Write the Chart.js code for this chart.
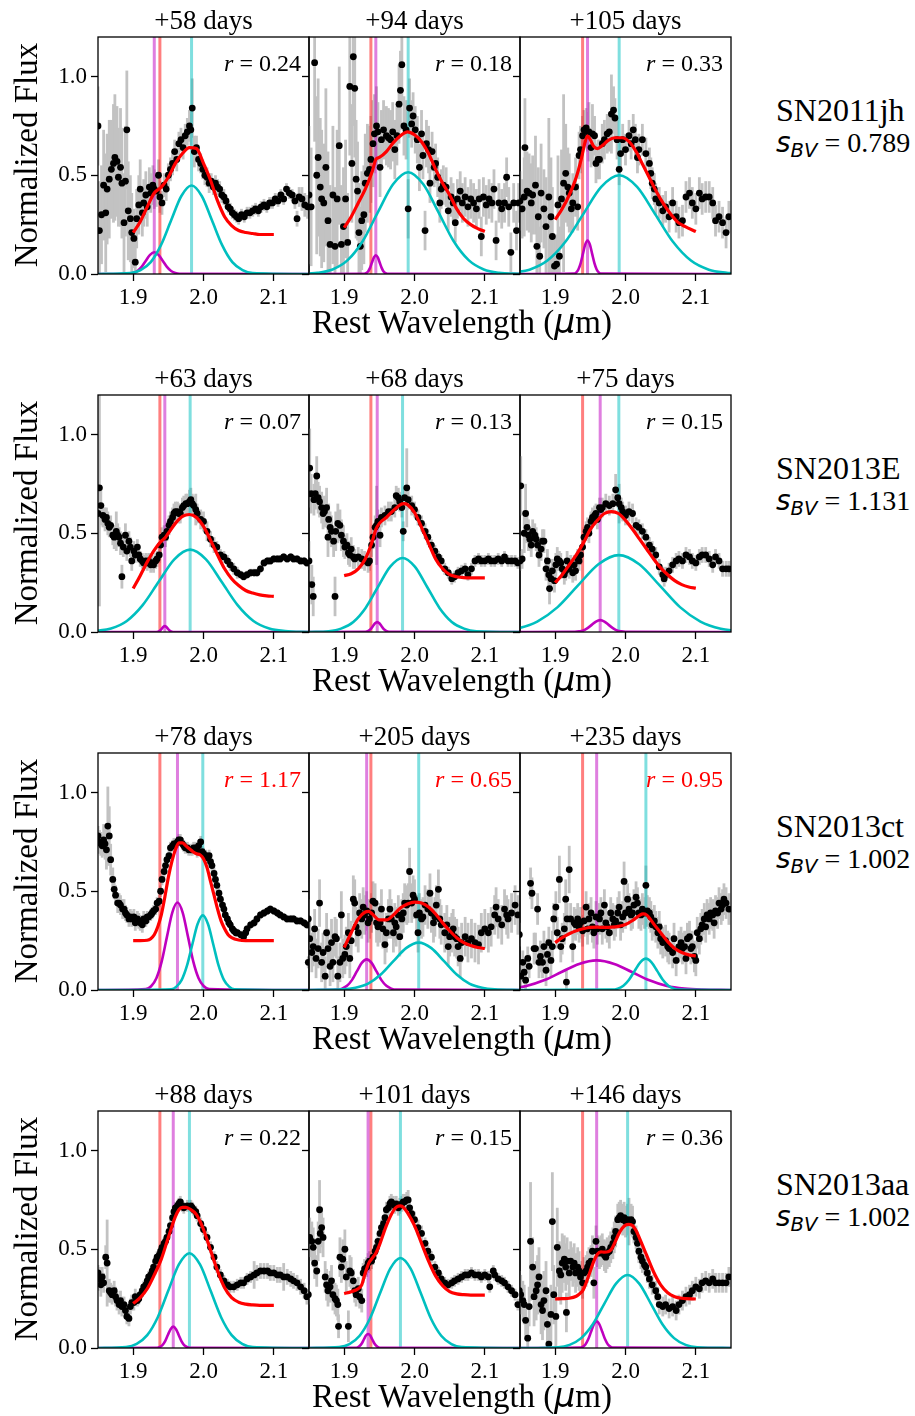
<!DOCTYPE html>
<html>
<head>
<meta charset="utf-8">
<script src="https://cdn.jsdelivr.net/npm/chart.js@4.4.1/dist/chart.umd.min.js"></script>
<style>
  html, body { margin: 0; padding: 0; background: #fff; }
  body { position: relative; width: 915px; height: 1416px; overflow: hidden;
         font-family: 'Liberation Serif', 'Times New Roman', serif; color: #000; }
  canvas { position: absolute; }
  .lbl { position: absolute; line-height: 1; white-space: nowrap; }
  .math { font-family: 'DejaVu Sans', sans-serif; font-style: italic; }
</style>
</head>
<body>
<script>
// axes
const xTicks = [1.9, 2.0, 2.1];
const yTicks = [0.0, 0.5, 1.0];
const xRange = [1.85, 2.15];
const yRange = [0, 1.2];

// rows = objects, columns = epochs
const objects = ['SN2011jh', 'SN2013E', 'SN2013ct', 'SN2013aa'];
const sBV = ['0.789', '1.131', '1.002', '1.002'];
const epochs = [
  ['+58 days', '+94 days', '+105 days'],
  ['+63 days', '+68 days', '+75 days'],
  ['+78 days', '+205 days', '+235 days'],
  ['+88 days', '+101 days', '+146 days']
];
const ratios = [
  ['0.24', '0.18', '0.33'],
  ['0.07', '0.13', '0.15'],
  ['1.17', '0.65', '0.95'],
  ['0.22', '0.15', '0.36']
];
const ratioRed = [false, false, true, false];

// spectra: [wavelength, flux, error]
const jh58Spec = [[1.850,0.75,0.20],[1.852,0.22,0.25],[1.855,0.30,0.25],[1.858,0.45,0.28],[1.861,0.31,0.30],[1.863,0.43,0.28],[1.866,0.48,0.30],[1.869,0.53,0.25],[1.872,0.56,0.30],[1.874,0.59,0.32],[1.877,0.57,0.28],[1.879,0.49,0.25],[1.882,0.54,0.30],[1.884,0.46,0.28],[1.887,0.26,0.25],[1.889,0.47,0.28],[1.891,0.73,0.30],[1.893,0.32,0.25],[1.896,0.28,0.22],[1.898,0.21,0.20],[1.901,0.18,0.15],[1.903,0.06,0.12],[1.905,0.28,0.15],[1.908,0.35,0.15],[1.910,0.43,0.15],[1.913,0.31,0.12],[1.915,0.36,0.12],[1.918,0.40,0.12],[1.920,0.34,0.10],[1.923,0.44,0.10],[1.925,0.41,0.10],[1.928,0.45,0.10],[1.930,0.43,0.10],[1.933,0.42,0.08],[1.936,0.50,0.08],[1.938,0.39,0.08],[1.941,0.36,0.06],[1.944,0.45,0.06],[1.947,0.43,0.06],[1.950,0.50,0.06],[1.953,0.53,0.06],[1.956,0.56,0.06],[1.959,0.62,0.06],[1.962,0.58,0.06],[1.965,0.66,0.06],[1.968,0.68,0.06],[1.971,0.64,0.06],[1.974,0.70,0.06],[1.977,0.72,0.07],[1.980,0.75,0.08],[1.982,0.73,0.08],[1.984,0.84,0.15],[1.987,0.62,0.08],[1.990,0.64,0.06],[1.993,0.58,0.06],[1.996,0.56,0.05],[1.999,0.53,0.05],[2.002,0.50,0.05],[2.005,0.49,0.05],[2.008,0.46,0.05],[2.011,0.47,0.04],[2.014,0.44,0.04],[2.017,0.46,0.04],[2.020,0.44,0.04],[2.023,0.43,0.04],[2.026,0.40,0.04],[2.029,0.39,0.04],[2.032,0.37,0.03],[2.035,0.34,0.03],[2.038,0.33,0.03],[2.041,0.31,0.03],[2.044,0.30,0.03],[2.047,0.29,0.03],[2.050,0.28,0.03],[2.054,0.30,0.03],[2.058,0.29,0.03],[2.062,0.31,0.03],[2.066,0.31,0.03],[2.070,0.32,0.03],[2.074,0.33,0.03],[2.078,0.32,0.03],[2.082,0.34,0.03],[2.086,0.35,0.03],[2.090,0.34,0.03],[2.094,0.36,0.03],[2.098,0.36,0.03],[2.102,0.38,0.03],[2.106,0.37,0.03],[2.110,0.40,0.03],[2.114,0.38,0.03],[2.118,0.43,0.03],[2.122,0.41,0.03],[2.126,0.40,0.03],[2.130,0.37,0.04],[2.133,0.28,0.04],[2.136,0.39,0.05],[2.140,0.38,0.06],[2.144,0.35,0.06],[2.148,0.34,0.06]];
const jh94Spec = [[1.850,0.40,0.35],[1.853,0.34,0.30],[1.858,1.07,0.40],[1.861,0.50,0.40],[1.863,0.59,0.40],[1.866,0.44,0.35],[1.868,0.38,0.35],[1.871,0.36,0.30],[1.874,0.54,0.40],[1.877,0.27,0.35],[1.880,0.15,0.30],[1.884,0.40,0.35],[1.887,0.14,0.30],[1.890,0.38,0.35],[1.893,0.65,0.40],[1.896,0.15,0.30],[1.899,0.24,0.30],[1.902,0.38,0.30],[1.905,0.16,0.25],[1.908,0.95,0.35],[1.911,0.56,0.30],[1.913,1.10,0.35],[1.915,0.94,0.35],[1.917,0.48,0.30],[1.919,0.42,0.25],[1.921,0.21,0.25],[1.923,0.14,0.20],[1.925,0.27,0.25],[1.928,0.30,0.25],[1.930,0.46,0.25],[1.933,0.51,0.25],[1.936,0.53,0.22],[1.938,0.58,0.22],[1.941,0.66,0.22],[1.943,0.71,0.20],[1.946,0.75,0.20],[1.948,0.72,0.15],[1.951,0.54,0.15],[1.953,0.68,0.15],[1.956,0.73,0.15],[1.960,0.70,0.15],[1.963,0.69,0.15],[1.966,0.68,0.15],[1.969,0.72,0.15],[1.972,0.63,0.15],[1.975,0.70,0.15],[1.978,0.86,0.20],[1.980,0.93,0.20],[1.982,1.06,0.20],[1.985,0.75,0.15],[1.988,0.73,0.15],[1.991,0.33,0.15],[1.993,0.84,0.15],[1.996,0.76,0.12],[1.998,0.80,0.12],[2.001,0.73,0.12],[2.004,0.68,0.12],[2.007,0.54,0.12],[2.010,0.71,0.12],[2.012,0.60,0.12],[2.015,0.22,0.10],[2.017,0.66,0.12],[2.020,0.63,0.12],[2.022,0.46,0.10],[2.025,0.62,0.10],[2.028,0.54,0.10],[2.030,0.56,0.10],[2.033,0.49,0.10],[2.036,0.36,0.10],[2.038,0.43,0.10],[2.041,0.45,0.10],[2.045,0.44,0.10],[2.048,0.32,0.10],[2.052,0.39,0.10],[2.055,0.36,0.10],[2.058,0.26,0.10],[2.061,0.38,0.10],[2.065,0.42,0.10],[2.068,0.36,0.10],[2.072,0.39,0.10],[2.076,0.34,0.10],[2.080,0.38,0.10],[2.084,0.36,0.10],[2.088,0.33,0.10],[2.092,0.38,0.10],[2.095,0.19,0.10],[2.098,0.39,0.10],[2.102,0.35,0.10],[2.106,0.38,0.10],[2.110,0.36,0.10],[2.113,0.43,0.10],[2.116,0.17,0.10],[2.120,0.36,0.10],[2.124,0.33,0.10],[2.128,0.36,0.10],[2.131,0.49,0.10],[2.134,0.34,0.10],[2.137,0.11,0.10],[2.141,0.36,0.10],[2.145,0.22,0.10],[2.148,0.36,0.10]];
const jh105Spec = [[1.850,0.37,0.15],[1.853,0.33,0.15],[1.856,0.39,0.20],[1.857,0.64,0.25],[1.860,0.42,0.20],[1.863,0.41,0.20],[1.866,0.36,0.20],[1.868,0.40,0.20],[1.872,0.45,0.25],[1.874,0.14,0.15],[1.876,0.29,0.25],[1.878,0.09,0.15],[1.880,0.41,0.25],[1.884,0.33,0.20],[1.887,0.24,0.25],[1.891,0.39,0.40],[1.894,0.29,0.30],[1.896,0.19,0.25],[1.899,0.04,0.15],[1.902,0.05,0.15],[1.904,0.35,0.25],[1.906,0.09,0.15],[1.909,0.38,0.25],[1.912,0.46,0.45],[1.915,0.51,0.25],[1.918,0.44,0.20],[1.920,0.41,0.20],[1.923,0.33,0.12],[1.925,0.36,0.15],[1.929,0.44,0.15],[1.932,0.34,0.12],[1.934,0.60,0.12],[1.936,0.63,0.12],[1.939,0.70,0.10],[1.941,0.73,0.10],[1.944,0.74,0.10],[1.946,0.72,0.10],[1.948,0.72,0.15],[1.951,0.64,0.10],[1.953,0.71,0.15],[1.956,0.70,0.10],[1.958,0.56,0.10],[1.961,0.58,0.10],[1.963,0.58,0.10],[1.967,0.66,0.10],[1.970,0.68,0.10],[1.974,0.71,0.10],[1.977,0.72,0.10],[1.980,0.81,0.20],[1.983,0.83,0.12],[1.985,0.79,0.10],[1.988,0.68,0.10],[1.991,0.53,0.08],[1.993,0.61,0.08],[1.996,0.68,0.08],[2.000,0.63,0.08],[2.005,0.70,0.08],[2.008,0.66,0.08],[2.011,0.73,0.08],[2.014,0.68,0.08],[2.017,0.59,0.08],[2.019,0.63,0.08],[2.024,0.68,0.08],[2.029,0.61,0.08],[2.034,0.56,0.08],[2.036,0.51,0.08],[2.038,0.46,0.08],[2.041,0.43,0.08],[2.043,0.38,0.08],[2.048,0.36,0.08],[2.053,0.32,0.08],[2.057,0.34,0.08],[2.062,0.29,0.08],[2.067,0.36,0.08],[2.072,0.29,0.08],[2.076,0.26,0.08],[2.081,0.27,0.08],[2.086,0.39,0.08],[2.091,0.41,0.08],[2.095,0.36,0.08],[2.100,0.33,0.08],[2.105,0.41,0.08],[2.109,0.38,0.08],[2.114,0.39,0.08],[2.119,0.39,0.08],[2.124,0.36,0.08],[2.128,0.27,0.08],[2.133,0.29,0.08],[2.138,0.26,0.08],[2.143,0.21,0.08],[2.147,0.29,0.08]];
const e63Spec = [[1.850,0.60,0.08],[1.852,0.73,0.60],[1.854,0.64,0.10],[1.857,0.59,0.06],[1.860,0.57,0.06],[1.862,0.58,0.05],[1.864,0.55,0.06],[1.866,0.53,0.05],[1.868,0.54,0.05],[1.871,0.49,0.05],[1.873,0.48,0.06],[1.876,0.51,0.10],[1.878,0.49,0.06],[1.880,0.48,0.05],[1.882,0.45,0.06],[1.884,0.28,0.06],[1.886,0.43,0.05],[1.889,0.49,0.06],[1.891,0.41,0.05],[1.894,0.46,0.05],[1.896,0.43,0.05],[1.898,0.36,0.05],[1.901,0.41,0.05],[1.903,0.39,0.04],[1.906,0.43,0.04],[1.908,0.39,0.04],[1.910,0.37,0.04],[1.913,0.36,0.04],[1.915,0.35,0.04],[1.918,0.36,0.04],[1.920,0.35,0.04],[1.922,0.36,0.04],[1.925,0.34,0.04],[1.927,0.35,0.04],[1.929,0.34,0.04],[1.932,0.36,0.04],[1.934,0.37,0.04],[1.937,0.39,0.04],[1.939,0.44,0.04],[1.941,0.48,0.05],[1.944,0.49,0.05],[1.946,0.48,0.05],[1.948,0.51,0.05],[1.951,0.54,0.05],[1.953,0.56,0.05],[1.956,0.58,0.05],[1.958,0.60,0.05],[1.960,0.61,0.05],[1.963,0.61,0.05],[1.965,0.60,0.05],[1.967,0.60,0.05],[1.970,0.63,0.05],[1.972,0.64,0.05],[1.975,0.65,0.05],[1.977,0.65,0.05],[1.980,0.66,0.06],[1.982,0.67,0.06],[1.984,0.65,0.05],[1.986,0.64,0.05],[1.989,0.62,0.08],[1.991,0.60,0.05],[1.996,0.57,0.05],[2.000,0.56,0.05],[2.005,0.51,0.05],[2.010,0.47,0.04],[2.015,0.44,0.04],[2.019,0.43,0.03],[2.024,0.39,0.03],[2.029,0.38,0.03],[2.034,0.36,0.03],[2.038,0.34,0.03],[2.043,0.32,0.03],[2.048,0.30,0.03],[2.053,0.29,0.02],[2.057,0.28,0.02],[2.062,0.29,0.02],[2.067,0.30,0.02],[2.072,0.30,0.02],[2.076,0.30,0.02],[2.081,0.32,0.02],[2.086,0.35,0.02],[2.091,0.36,0.02],[2.095,0.36,0.02],[2.100,0.37,0.02],[2.105,0.37,0.02],[2.109,0.37,0.02],[2.114,0.38,0.02],[2.119,0.37,0.02],[2.124,0.38,0.02],[2.128,0.37,0.02],[2.133,0.37,0.02],[2.138,0.36,0.02],[2.143,0.36,0.02],[2.147,0.35,0.02]];
const e68Spec = [[1.850,0.36,0.10],[1.851,0.83,0.20],[1.853,0.70,0.10],[1.854,0.24,0.10],[1.856,0.18,0.10],[1.857,0.67,0.08],[1.859,0.70,0.08],[1.861,0.79,0.10],[1.863,0.68,0.08],[1.865,0.66,0.08],[1.868,0.63,0.08],[1.870,0.60,0.08],[1.872,0.61,0.08],[1.875,0.63,0.10],[1.877,0.48,0.10],[1.878,0.57,0.08],[1.880,0.53,0.08],[1.882,0.51,0.08],[1.885,0.46,0.08],[1.887,0.18,0.10],[1.888,0.51,0.10],[1.891,0.55,0.10],[1.894,0.54,0.08],[1.896,0.49,0.08],[1.899,0.46,0.08],[1.901,0.43,0.06],[1.904,0.44,0.06],[1.906,0.40,0.06],[1.908,0.39,0.06],[1.910,0.42,0.06],[1.913,0.38,0.06],[1.915,0.37,0.05],[1.920,0.38,0.05],[1.925,0.37,0.05],[1.929,0.36,0.05],[1.934,0.35,0.05],[1.936,0.36,0.05],[1.939,0.44,0.06],[1.941,0.48,0.06],[1.944,0.53,0.06],[1.946,0.54,0.20],[1.948,0.56,0.06],[1.951,0.49,0.06],[1.953,0.58,0.05],[1.958,0.59,0.05],[1.963,0.61,0.05],[1.967,0.61,0.05],[1.972,0.63,0.05],[1.974,0.69,0.05],[1.977,0.68,0.05],[1.979,0.66,0.05],[1.982,0.63,0.05],[1.984,0.51,0.05],[1.986,0.68,0.05],[1.989,0.73,0.20],[1.991,0.67,0.05],[1.996,0.64,0.05],[2.000,0.62,0.04],[2.005,0.58,0.04],[2.010,0.55,0.04],[2.015,0.51,0.04],[2.019,0.48,0.04],[2.024,0.44,0.03],[2.029,0.41,0.03],[2.034,0.38,0.03],[2.038,0.36,0.03],[2.043,0.32,0.03],[2.048,0.30,0.03],[2.053,0.27,0.03],[2.057,0.28,0.03],[2.062,0.30,0.03],[2.067,0.31,0.03],[2.072,0.32,0.03],[2.076,0.29,0.03],[2.081,0.32,0.03],[2.086,0.36,0.03],[2.091,0.37,0.03],[2.095,0.36,0.03],[2.100,0.36,0.03],[2.105,0.37,0.03],[2.109,0.36,0.03],[2.114,0.36,0.03],[2.119,0.37,0.03],[2.124,0.36,0.03],[2.128,0.38,0.03],[2.133,0.36,0.03],[2.138,0.36,0.03],[2.143,0.36,0.03],[2.147,0.35,0.03]];
const e75Spec = [[1.850,0.36,0.05],[1.851,0.74,0.15],[1.853,0.37,0.05],[1.856,0.50,0.10],[1.858,0.60,0.15],[1.860,0.53,0.08],[1.862,0.49,0.08],[1.864,0.47,0.06],[1.866,0.44,0.06],[1.868,0.51,0.06],[1.871,0.49,0.06],[1.873,0.47,0.06],[1.875,0.44,0.06],[1.877,0.39,0.06],[1.880,0.42,0.06],[1.882,0.46,0.06],[1.884,0.46,0.06],[1.887,0.32,0.06],[1.889,0.36,0.06],[1.891,0.29,0.06],[1.892,0.22,0.08],[1.894,0.27,0.06],[1.896,0.31,0.06],[1.899,0.26,0.06],[1.901,0.34,0.06],[1.903,0.37,0.06],[1.906,0.36,0.05],[1.908,0.35,0.05],[1.910,0.32,0.05],[1.913,0.29,0.05],[1.915,0.31,0.05],[1.917,0.36,0.05],[1.920,0.32,0.05],[1.922,0.34,0.05],[1.925,0.30,0.05],[1.927,0.34,0.05],[1.929,0.31,0.05],[1.932,0.37,0.05],[1.934,0.36,0.05],[1.936,0.39,0.05],[1.939,0.43,0.05],[1.941,0.48,0.05],[1.944,0.51,0.05],[1.946,0.53,0.05],[1.948,0.50,0.05],[1.951,0.56,0.05],[1.953,0.58,0.05],[1.956,0.59,0.05],[1.958,0.60,0.05],[1.960,0.57,0.05],[1.963,0.63,0.05],[1.965,0.62,0.05],[1.967,0.63,0.05],[1.972,0.65,0.05],[1.977,0.64,0.05],[1.982,0.65,0.05],[1.986,0.72,0.08],[1.989,0.68,0.05],[1.991,0.65,0.10],[1.994,0.63,0.05],[1.996,0.61,0.05],[2.000,0.59,0.05],[2.005,0.61,0.05],[2.010,0.60,0.05],[2.015,0.54,0.04],[2.019,0.53,0.04],[2.024,0.51,0.04],[2.029,0.48,0.04],[2.034,0.44,0.04],[2.038,0.42,0.04],[2.043,0.39,0.04],[2.048,0.33,0.04],[2.053,0.29,0.04],[2.055,0.27,0.04],[2.057,0.29,0.04],[2.062,0.31,0.04],[2.067,0.34,0.04],[2.072,0.36,0.04],[2.076,0.37,0.04],[2.081,0.36,0.04],[2.086,0.39,0.04],[2.091,0.38,0.04],[2.095,0.36,0.04],[2.100,0.35,0.04],[2.105,0.38,0.04],[2.109,0.39,0.04],[2.114,0.39,0.04],[2.119,0.37,0.04],[2.124,0.34,0.04],[2.128,0.38,0.04],[2.133,0.36,0.04],[2.138,0.32,0.04],[2.143,0.32,0.04],[2.147,0.32,0.04]];
const ct78Spec = [[1.850,0.78,0.05],[1.852,0.75,0.06],[1.854,0.74,0.06],[1.856,0.73,0.06],[1.858,0.76,0.08],[1.860,0.74,0.08],[1.862,0.71,0.10],[1.864,0.83,0.20],[1.866,0.78,0.15],[1.868,0.66,0.08],[1.871,0.56,0.06],[1.873,0.51,0.05],[1.875,0.48,0.05],[1.878,0.44,0.05],[1.880,0.44,0.05],[1.882,0.43,0.05],[1.885,0.41,0.05],[1.887,0.41,0.05],[1.889,0.39,0.04],[1.891,0.38,0.04],[1.894,0.36,0.04],[1.896,0.37,0.04],[1.898,0.36,0.04],[1.901,0.37,0.04],[1.903,0.34,0.04],[1.906,0.36,0.04],[1.908,0.35,0.04],[1.910,0.34,0.04],[1.913,0.33,0.04],[1.915,0.36,0.04],[1.918,0.35,0.03],[1.920,0.37,0.03],[1.922,0.37,0.03],[1.925,0.38,0.03],[1.927,0.39,0.03],[1.929,0.40,0.03],[1.932,0.41,0.03],[1.934,0.44,0.03],[1.937,0.45,0.03],[1.939,0.50,0.03],[1.941,0.56,0.03],[1.944,0.60,0.03],[1.946,0.63,0.03],[1.948,0.66,0.03],[1.951,0.68,0.03],[1.953,0.72,0.03],[1.956,0.73,0.03],[1.958,0.74,0.03],[1.960,0.74,0.03],[1.963,0.75,0.03],[1.965,0.76,0.03],[1.967,0.76,0.03],[1.970,0.74,0.03],[1.972,0.73,0.03],[1.974,0.72,0.03],[1.977,0.72,0.03],[1.979,0.71,0.03],[1.982,0.71,0.03],[1.984,0.71,0.03],[1.986,0.72,0.03],[1.989,0.72,0.03],[1.991,0.70,0.03],[1.993,0.73,0.03],[1.996,0.75,0.03],[1.998,0.70,0.03],[2.000,0.69,0.03],[2.003,0.68,0.03],[2.005,0.67,0.03],[2.008,0.68,0.03],[2.010,0.65,0.03],[2.012,0.63,0.03],[2.015,0.59,0.03],[2.017,0.56,0.03],[2.019,0.53,0.03],[2.022,0.49,0.03],[2.024,0.46,0.03],[2.027,0.43,0.03],[2.029,0.41,0.03],[2.031,0.38,0.03],[2.034,0.36,0.02],[2.036,0.34,0.02],[2.038,0.33,0.02],[2.041,0.31,0.02],[2.043,0.30,0.02],[2.046,0.29,0.02],[2.048,0.29,0.02],[2.053,0.28,0.02],[2.057,0.27,0.02],[2.060,0.29,0.02],[2.062,0.31,0.02],[2.067,0.33,0.02],[2.072,0.34,0.02],[2.076,0.36,0.02],[2.081,0.38,0.02],[2.086,0.39,0.02],[2.091,0.40,0.02],[2.095,0.41,0.02],[2.100,0.40,0.02],[2.105,0.39,0.02],[2.109,0.38,0.02],[2.114,0.37,0.02],[2.119,0.36,0.02],[2.124,0.36,0.02],[2.128,0.36,0.02],[2.133,0.35,0.02],[2.138,0.35,0.02],[2.143,0.34,0.02],[2.147,0.33,0.02],[2.149,0.14,0.03]];
const ct205Spec = [[1.849,0.36,0.10],[1.851,0.26,0.10],[1.854,0.19,0.10],[1.856,0.22,0.10],[1.858,0.31,0.10],[1.860,0.16,0.10],[1.863,0.21,0.10],[1.865,0.44,0.12],[1.868,0.14,0.10],[1.870,0.19,0.10],[1.873,0.07,0.10],[1.875,0.29,0.10],[1.877,0.21,0.10],[1.880,0.12,0.10],[1.882,0.24,0.12],[1.884,0.14,0.10],[1.887,0.27,0.10],[1.889,0.26,0.10],[1.891,0.07,0.10],[1.894,0.14,0.10],[1.896,0.38,0.12],[1.898,0.16,0.10],[1.901,0.18,0.10],[1.903,0.22,0.10],[1.906,0.29,0.10],[1.908,0.16,0.10],[1.910,0.25,0.10],[1.913,0.46,0.12],[1.915,0.44,0.12],[1.917,0.32,0.10],[1.920,0.29,0.10],[1.922,0.39,0.10],[1.925,0.36,0.10],[1.927,0.42,0.10],[1.929,0.38,0.10],[1.932,0.40,0.10],[1.934,0.34,0.10],[1.936,0.36,0.10],[1.939,0.39,0.10],[1.941,0.45,0.10],[1.944,0.44,0.10],[1.946,0.34,0.10],[1.948,0.32,0.10],[1.951,0.34,0.10],[1.953,0.41,0.10],[1.955,0.31,0.10],[1.958,0.23,0.10],[1.960,0.29,0.10],[1.963,0.36,0.10],[1.965,0.41,0.10],[1.967,0.36,0.10],[1.970,0.29,0.10],[1.972,0.34,0.10],[1.974,0.32,0.10],[1.977,0.38,0.10],[1.979,0.27,0.10],[1.982,0.36,0.10],[1.984,0.39,0.10],[1.986,0.44,0.10],[1.989,0.43,0.10],[1.991,0.44,0.10],[1.993,0.60,0.12],[1.996,0.44,0.10],[1.998,0.48,0.10],[2.000,0.46,0.10],[2.003,0.38,0.10],[2.005,0.29,0.10],[2.007,0.39,0.10],[2.010,0.36,0.10],[2.012,0.37,0.10],[2.015,0.43,0.10],[2.019,0.41,0.10],[2.022,0.49,0.10],[2.024,0.39,0.10],[2.027,0.34,0.10],[2.029,0.37,0.10],[2.031,0.43,0.10],[2.034,0.51,0.10],[2.036,0.36,0.10],[2.038,0.33,0.10],[2.043,0.29,0.10],[2.046,0.33,0.10],[2.048,0.22,0.10],[2.050,0.27,0.10],[2.053,0.29,0.10],[2.055,0.31,0.10],[2.057,0.27,0.10],[2.060,0.26,0.10],[2.062,0.22,0.10],[2.065,0.16,0.10],[2.067,0.24,0.10],[2.072,0.27,0.10],[2.076,0.24,0.10],[2.081,0.26,0.10],[2.086,0.24,0.10],[2.091,0.23,0.10],[2.095,0.29,0.10],[2.100,0.31,0.10],[2.105,0.29,0.10],[2.109,0.32,0.10],[2.114,0.38,0.10],[2.116,0.42,0.10],[2.119,0.36,0.10],[2.124,0.33,0.10],[2.128,0.41,0.10],[2.131,0.38,0.10],[2.133,0.36,0.10],[2.138,0.39,0.10],[2.143,0.43,0.10],[2.147,0.38,0.10]];
const ct235Spec = [[1.849,0.28,0.06],[1.851,0.07,0.06],[1.854,0.14,0.06],[1.856,0.09,0.06],[1.858,0.05,0.06],[1.861,0.16,0.06],[1.863,0.12,0.06],[1.865,0.54,0.08],[1.867,0.49,0.08],[1.870,0.21,0.08],[1.872,0.21,0.08],[1.875,0.41,0.08],[1.877,0.14,0.08],[1.879,0.17,0.08],[1.882,0.14,0.08],[1.884,0.22,0.08],[1.887,0.10,0.08],[1.889,0.18,0.08],[1.891,0.24,0.08],[1.894,0.15,0.08],[1.896,0.22,0.08],[1.898,0.36,0.08],[1.901,0.42,0.08],[1.903,0.29,0.08],[1.906,0.56,0.12],[1.908,0.22,0.08],[1.910,0.26,0.08],[1.913,0.31,0.08],[1.915,0.46,0.10],[1.916,0.04,0.06],[1.917,0.36,0.08],[1.920,0.61,0.12],[1.922,0.36,0.08],[1.925,0.22,0.08],[1.927,0.34,0.08],[1.929,0.33,0.08],[1.932,0.36,0.08],[1.934,0.32,0.08],[1.936,0.34,0.08],[1.939,0.30,0.08],[1.941,0.35,0.08],[1.944,0.42,0.08],[1.946,0.31,0.08],[1.948,0.36,0.08],[1.951,0.39,0.08],[1.953,0.32,0.08],[1.955,0.29,0.08],[1.958,0.37,0.08],[1.960,0.31,0.08],[1.963,0.36,0.08],[1.965,0.39,0.08],[1.967,0.31,0.08],[1.970,0.43,0.08],[1.972,0.34,0.08],[1.974,0.32,0.08],[1.977,0.29,0.08],[1.979,0.39,0.08],[1.982,0.36,0.08],[1.984,0.33,0.08],[1.986,0.35,0.08],[1.989,0.39,0.08],[1.991,0.42,0.08],[1.993,0.33,0.08],[1.996,0.37,0.08],[1.998,0.55,0.10],[2.000,0.39,0.08],[2.003,0.46,0.08],[2.005,0.41,0.08],[2.008,0.38,0.08],[2.010,0.39,0.08],[2.012,0.43,0.08],[2.015,0.47,0.08],[2.017,0.44,0.08],[2.019,0.39,0.08],[2.022,0.38,0.08],[2.024,0.41,0.08],[2.027,0.39,0.08],[2.029,0.53,0.10],[2.031,0.40,0.08],[2.034,0.39,0.08],[2.036,0.37,0.08],[2.038,0.33,0.08],[2.041,0.35,0.08],[2.043,0.32,0.08],[2.046,0.29,0.08],[2.048,0.32,0.08],[2.050,0.26,0.08],[2.053,0.24,0.08],[2.057,0.25,0.08],[2.060,0.22,0.08],[2.062,0.21,0.08],[2.067,0.19,0.08],[2.069,0.26,0.08],[2.072,0.15,0.08],[2.076,0.22,0.08],[2.079,0.24,0.08],[2.081,0.21,0.08],[2.084,0.22,0.08],[2.086,0.16,0.08],[2.088,0.26,0.08],[2.091,0.27,0.08],[2.093,0.21,0.08],[2.095,0.22,0.08],[2.098,0.17,0.08],[2.100,0.15,0.08],[2.102,0.29,0.08],[2.105,0.26,0.08],[2.107,0.31,0.08],[2.109,0.33,0.08],[2.112,0.36,0.08],[2.114,0.32,0.08],[2.116,0.38,0.08],[2.119,0.36,0.08],[2.121,0.39,0.08],[2.124,0.38,0.08],[2.126,0.34,0.08],[2.128,0.40,0.08],[2.131,0.39,0.08],[2.133,0.44,0.08],[2.136,0.41,0.08],[2.138,0.43,0.08],[2.140,0.46,0.08],[2.143,0.44,0.08],[2.147,0.41,0.08]];
const aa88Spec = [[1.850,0.38,0.04],[1.852,0.35,0.06],[1.854,0.32,0.06],[1.856,0.36,0.05],[1.858,0.33,0.05],[1.861,0.46,0.06],[1.863,0.43,0.22],[1.866,0.29,0.06],[1.868,0.28,0.05],[1.870,0.27,0.05],[1.873,0.29,0.05],[1.875,0.26,0.05],[1.877,0.24,0.05],[1.880,0.22,0.05],[1.882,0.24,0.05],[1.884,0.21,0.05],[1.887,0.22,0.04],[1.889,0.19,0.04],[1.891,0.16,0.04],[1.894,0.15,0.04],[1.896,0.21,0.04],[1.898,0.23,0.04],[1.901,0.23,0.04],[1.903,0.26,0.04],[1.906,0.24,0.03],[1.908,0.25,0.03],[1.910,0.27,0.03],[1.913,0.29,0.03],[1.915,0.31,0.03],[1.918,0.32,0.03],[1.920,0.34,0.03],[1.922,0.36,0.03],[1.925,0.37,0.03],[1.927,0.39,0.03],[1.929,0.41,0.03],[1.932,0.44,0.03],[1.934,0.46,0.03],[1.937,0.47,0.03],[1.939,0.49,0.03],[1.941,0.51,0.03],[1.944,0.53,0.03],[1.946,0.54,0.03],[1.948,0.56,0.03],[1.951,0.59,0.03],[1.953,0.62,0.03],[1.956,0.66,0.03],[1.958,0.69,0.03],[1.960,0.71,0.03],[1.963,0.72,0.03],[1.965,0.73,0.03],[1.967,0.74,0.03],[1.970,0.72,0.03],[1.972,0.71,0.03],[1.977,0.72,0.03],[1.982,0.72,0.03],[1.984,0.71,0.03],[1.986,0.70,0.03],[1.989,0.69,0.03],[1.991,0.67,0.03],[1.996,0.63,0.03],[2.000,0.60,0.03],[2.005,0.56,0.03],[2.010,0.51,0.03],[2.015,0.46,0.03],[2.019,0.41,0.03],[2.024,0.37,0.03],[2.029,0.34,0.03],[2.034,0.32,0.03],[2.038,0.31,0.03],[2.043,0.31,0.03],[2.048,0.32,0.03],[2.053,0.33,0.03],[2.057,0.33,0.03],[2.062,0.35,0.03],[2.067,0.36,0.03],[2.072,0.37,0.07],[2.076,0.38,0.04],[2.081,0.39,0.04],[2.086,0.39,0.04],[2.091,0.39,0.04],[2.095,0.38,0.04],[2.100,0.38,0.04],[2.105,0.37,0.04],[2.109,0.37,0.04],[2.114,0.36,0.07],[2.119,0.36,0.04],[2.124,0.35,0.04],[2.128,0.34,0.04],[2.133,0.33,0.04],[2.138,0.31,0.04],[2.143,0.29,0.04],[2.147,0.26,0.04]];
const aa101Spec = [[1.849,0.27,0.05],[1.851,0.56,0.10],[1.854,0.54,0.10],[1.856,0.51,0.10],[1.858,0.43,0.08],[1.861,0.39,0.08],[1.863,0.54,0.10],[1.865,0.70,0.15],[1.866,0.58,0.10],[1.868,0.61,0.10],[1.870,0.56,0.10],[1.873,0.36,0.08],[1.875,0.32,0.08],[1.877,0.29,0.08],[1.880,0.31,0.08],[1.882,0.34,0.08],[1.884,0.27,0.08],[1.887,0.25,0.08],[1.889,0.24,0.08],[1.891,0.22,0.08],[1.892,0.11,0.06],[1.894,0.46,0.10],[1.896,0.41,0.08],[1.898,0.45,0.10],[1.901,0.50,0.10],[1.903,0.36,0.08],[1.906,0.11,0.08],[1.908,0.39,0.08],[1.910,0.38,0.08],[1.913,0.34,0.06],[1.915,0.29,0.06],[1.917,0.27,0.06],[1.920,0.30,0.06],[1.922,0.26,0.06],[1.925,0.24,0.06],[1.927,0.38,0.05],[1.929,0.40,0.05],[1.932,0.41,0.05],[1.934,0.43,0.05],[1.936,0.44,0.05],[1.939,0.44,0.04],[1.941,0.46,0.04],[1.944,0.49,0.04],[1.946,0.51,0.04],[1.948,0.54,0.04],[1.951,0.58,0.04],[1.953,0.61,0.04],[1.956,0.63,0.04],[1.958,0.66,0.04],[1.960,0.70,0.04],[1.963,0.71,0.04],[1.965,0.73,0.04],[1.967,0.74,0.04],[1.970,0.73,0.04],[1.972,0.72,0.04],[1.974,0.73,0.04],[1.977,0.71,0.04],[1.979,0.72,0.04],[1.982,0.73,0.04],[1.984,0.74,0.04],[1.986,0.74,0.04],[1.989,0.75,0.04],[1.991,0.75,0.05],[1.993,0.71,0.04],[1.996,0.68,0.04],[2.000,0.65,0.04],[2.005,0.61,0.04],[2.010,0.58,0.04],[2.015,0.53,0.03],[2.019,0.49,0.03],[2.024,0.46,0.03],[2.029,0.41,0.03],[2.034,0.38,0.03],[2.038,0.35,0.03],[2.043,0.33,0.03],[2.048,0.32,0.03],[2.053,0.33,0.03],[2.057,0.34,0.03],[2.062,0.35,0.03],[2.067,0.36,0.03],[2.072,0.37,0.03],[2.076,0.37,0.03],[2.081,0.38,0.03],[2.086,0.37,0.03],[2.091,0.37,0.03],[2.095,0.36,0.03],[2.100,0.37,0.03],[2.105,0.36,0.03],[2.107,0.31,0.03],[2.112,0.39,0.03],[2.114,0.37,0.03],[2.119,0.35,0.03],[2.124,0.34,0.03],[2.128,0.33,0.03],[2.133,0.31,0.03],[2.138,0.29,0.03],[2.143,0.27,0.03],[2.147,0.22,0.03]];
const aa146Spec = [[1.849,0.29,0.10],[1.851,0.27,0.10],[1.854,0.24,0.10],[1.856,0.22,0.10],[1.858,0.14,0.10],[1.861,0.05,0.10],[1.863,0.21,0.10],[1.865,0.54,0.30],[1.868,0.41,0.15],[1.870,0.26,0.15],[1.873,0.29,0.15],[1.875,0.32,0.15],[1.877,0.36,0.15],[1.880,0.22,0.15],[1.882,0.19,0.15],[1.884,0.24,0.15],[1.887,0.29,0.15],[1.889,0.12,0.15],[1.891,0.02,0.10],[1.894,0.17,0.15],[1.896,0.64,0.25],[1.898,0.27,0.15],[1.901,0.16,0.15],[1.903,0.51,0.20],[1.906,0.39,0.15],[1.908,0.37,0.15],[1.910,0.43,0.15],[1.913,0.45,0.12],[1.915,0.41,0.12],[1.916,0.18,0.10],[1.917,0.44,0.12],[1.920,0.38,0.12],[1.922,0.44,0.10],[1.925,0.41,0.10],[1.927,0.43,0.10],[1.929,0.38,0.10],[1.932,0.41,0.10],[1.934,0.39,0.10],[1.936,0.36,0.08],[1.939,0.33,0.08],[1.941,0.38,0.08],[1.944,0.39,0.08],[1.946,0.41,0.08],[1.948,0.43,0.08],[1.951,0.44,0.08],[1.953,0.49,0.08],[1.955,0.33,0.08],[1.958,0.54,0.08],[1.960,0.49,0.08],[1.963,0.48,0.08],[1.965,0.49,0.08],[1.967,0.50,0.08],[1.970,0.47,0.08],[1.972,0.46,0.08],[1.974,0.48,0.08],[1.977,0.49,0.08],[1.979,0.51,0.08],[1.982,0.53,0.08],[1.984,0.56,0.08],[1.986,0.59,0.08],[1.989,0.65,0.08],[1.991,0.66,0.08],[1.993,0.67,0.08],[1.996,0.65,0.08],[1.998,0.66,0.08],[2.000,0.64,0.08],[2.003,0.65,0.08],[2.005,0.64,0.12],[2.008,0.65,0.08],[2.010,0.64,0.08],[2.012,0.59,0.06],[2.015,0.56,0.06],[2.017,0.53,0.06],[2.019,0.49,0.06],[2.022,0.46,0.06],[2.024,0.44,0.06],[2.027,0.42,0.05],[2.029,0.41,0.05],[2.031,0.38,0.05],[2.034,0.35,0.05],[2.038,0.32,0.05],[2.043,0.29,0.05],[2.046,0.26,0.05],[2.048,0.22,0.05],[2.053,0.21,0.05],[2.057,0.22,0.05],[2.062,0.20,0.05],[2.067,0.21,0.05],[2.072,0.19,0.05],[2.076,0.22,0.05],[2.081,0.24,0.05],[2.086,0.26,0.05],[2.091,0.27,0.05],[2.095,0.29,0.05],[2.100,0.31,0.05],[2.105,0.30,0.05],[2.109,0.33,0.05],[2.114,0.34,0.05],[2.119,0.33,0.05],[2.124,0.35,0.05],[2.128,0.33,0.05],[2.133,0.33,0.05],[2.138,0.33,0.05],[2.143,0.33,0.05],[2.147,0.36,0.05]];

// total model fits (red)
const jh58Fit = [[1.90,0.21],[1.91,0.265],[1.92,0.34],[1.93,0.41],[1.94,0.44],[1.95,0.49],[1.96,0.56],[1.97,0.61],[1.98,0.64],[1.99,0.635],[2.00,0.56],[2.01,0.475],[2.02,0.37],[2.03,0.29],[2.04,0.245],[2.05,0.22],[2.06,0.21],[2.07,0.205],[2.08,0.20],[2.09,0.20],[2.10,0.20]];
const jh94Fit = [[1.90,0.235],[1.91,0.29],[1.92,0.36],[1.93,0.43],[1.94,0.52],[1.945,0.58],[1.95,0.59],[1.96,0.62],[1.97,0.665],[1.98,0.70],[1.99,0.72],[2.00,0.705],[2.01,0.67],[2.02,0.61],[2.03,0.53],[2.04,0.46],[2.05,0.40],[2.06,0.33],[2.07,0.28],[2.08,0.25],[2.09,0.23],[2.10,0.215]];
const jh105Fit = [[1.90,0.275],[1.91,0.33],[1.92,0.40],[1.93,0.49],[1.937,0.58],[1.942,0.66],[1.946,0.70],[1.950,0.68],[1.955,0.645],[1.960,0.635],[1.967,0.65],[1.975,0.675],[1.985,0.69],[1.995,0.69],[2.005,0.67],[2.015,0.62],[2.025,0.55],[2.035,0.48],[2.045,0.41],[2.055,0.35],[2.065,0.30],[2.075,0.26],[2.085,0.24],[2.10,0.215]];
const e63Fit = [[1.90,0.22],[1.91,0.285],[1.92,0.355],[1.93,0.415],[1.94,0.46],[1.945,0.475],[1.95,0.50],[1.96,0.55],[1.97,0.585],[1.98,0.595],[1.99,0.58],[2.00,0.535],[2.01,0.465],[2.02,0.39],[2.03,0.32],[2.04,0.27],[2.05,0.235],[2.06,0.21],[2.07,0.197],[2.08,0.188],[2.09,0.183],[2.10,0.18]];
const e68Fit = [[1.90,0.285],[1.91,0.295],[1.92,0.32],[1.93,0.37],[1.94,0.46],[1.945,0.52],[1.95,0.55],[1.96,0.58],[1.97,0.615],[1.98,0.645],[1.985,0.65],[1.99,0.645],[2.00,0.605],[2.01,0.53],[2.02,0.45],[2.03,0.37],[2.04,0.32],[2.05,0.29],[2.06,0.28],[2.07,0.275],[2.08,0.274],[2.10,0.274]];
const e75Fit = [[1.90,0.25],[1.91,0.29],[1.92,0.34],[1.93,0.39],[1.94,0.45],[1.95,0.52],[1.96,0.565],[1.97,0.60],[1.98,0.61],[1.99,0.60],[2.00,0.565],[2.01,0.52],[2.02,0.47],[2.03,0.42],[2.04,0.37],[2.05,0.325],[2.06,0.29],[2.07,0.26],[2.08,0.24],[2.09,0.228],[2.10,0.222]];
const ct78Fit = [[1.90,0.25],[1.91,0.25],[1.92,0.252],[1.925,0.26],[1.93,0.28],[1.935,0.32],[1.94,0.38],[1.945,0.47],[1.95,0.57],[1.955,0.65],[1.96,0.71],[1.965,0.745],[1.97,0.745],[1.975,0.73],[1.98,0.715],[1.985,0.70],[1.99,0.69],[1.995,0.685],[2.00,0.665],[2.005,0.62],[2.01,0.55],[2.015,0.48],[2.02,0.41],[2.025,0.35],[2.03,0.31],[2.035,0.28],[2.04,0.265],[2.05,0.253],[2.06,0.25],[2.10,0.25]];
const ct205Fit = [[1.90,0.215],[1.91,0.29],[1.92,0.36],[1.93,0.395],[1.935,0.398],[1.94,0.385],[1.95,0.355],[1.96,0.355],[1.97,0.38],[1.98,0.415],[1.99,0.435],[2.00,0.445],[2.01,0.44],[2.02,0.42],[2.03,0.385],[2.04,0.34],[2.05,0.30],[2.06,0.265],[2.07,0.24],[2.08,0.225],[2.09,0.215],[2.10,0.21]];
const ct235Fit = [[1.90,0.24],[1.91,0.265],[1.92,0.285],[1.93,0.30],[1.94,0.31],[1.95,0.317],[1.96,0.318],[1.97,0.317],[1.98,0.318],[1.99,0.322],[2.00,0.332],[2.01,0.352],[2.02,0.378],[2.025,0.385],[2.03,0.38],[2.035,0.36],[2.04,0.335],[2.05,0.29],[2.06,0.245],[2.07,0.21],[2.08,0.19],[2.09,0.178],[2.10,0.172]];
const aa88Fit = [[1.90,0.225],[1.91,0.255],[1.92,0.30],[1.93,0.37],[1.94,0.45],[1.95,0.56],[1.96,0.665],[1.965,0.70],[1.97,0.712],[1.975,0.712],[1.98,0.705],[1.99,0.675],[2.00,0.60],[2.01,0.495],[2.02,0.39],[2.03,0.305],[2.04,0.255],[2.05,0.232],[2.06,0.222],[2.07,0.218],[2.08,0.216],[2.10,0.216]];
const aa101Fit = [[1.90,0.275],[1.91,0.285],[1.92,0.30],[1.925,0.32],[1.93,0.38],[1.935,0.43],[1.94,0.455],[1.945,0.48],[1.95,0.52],[1.96,0.62],[1.97,0.695],[1.975,0.715],[1.98,0.72],[1.985,0.71],[1.99,0.685],[2.00,0.62],[2.01,0.53],[2.02,0.44],[2.03,0.365],[2.04,0.315],[2.05,0.285],[2.06,0.274],[2.07,0.27],[2.08,0.268],[2.10,0.268]];
const aa146Fit = [[1.90,0.248],[1.91,0.25],[1.92,0.252],[1.93,0.262],[1.935,0.275],[1.94,0.295],[1.945,0.34],[1.95,0.39],[1.955,0.44],[1.96,0.475],[1.965,0.487],[1.97,0.485],[1.975,0.487],[1.98,0.50],[1.985,0.535],[1.99,0.575],[1.995,0.605],[2.00,0.622],[2.005,0.626],[2.01,0.62],[2.015,0.595],[2.02,0.555],[2.03,0.47],[2.04,0.385],[2.05,0.32],[2.06,0.28],[2.07,0.26],[2.08,0.252],[2.10,0.248]];

// broad (cyan) components
const jh58Broad = [[1.85,0],[1.896,0.005],[1.9105,0.020],[1.925,0.060],[1.9395,0.146],[1.954,0.272],[1.9685,0.395],[1.983,0.448],[1.9975,0.395],[2.012,0.272],[2.0265,0.146],[2.041,0.060],[2.0555,0.020],[2.070,0.005],[2.15,0]];
const jh94Broad = [[1.85,0.002],[1.862,0.006],[1.8835,0.023],[1.905,0.070],[1.9265,0.167],[1.948,0.313],[1.9695,0.454],[1.991,0.515],[2.0125,0.454],[2.034,0.313],[2.0555,0.167],[2.077,0.070],[2.0985,0.023],[2.12,0.006],[2.15,0.001]];
const jh105Broad = [[1.838,0.006],[1.8635,0.022],[1.889,0.068],[1.9145,0.163],[1.940,0.304],[1.9655,0.441],[1.991,0.500],[2.0165,0.441],[2.042,0.304],[2.0675,0.163],[2.093,0.068],[2.1185,0.022],[2.144,0.006],[2.15,0.004]];
const e63Broad = [[1.846,0.005],[1.8685,0.018],[1.891,0.056],[1.9135,0.136],[1.936,0.253],[1.9585,0.368],[1.981,0.417],[2.0035,0.368],[2.026,0.253],[2.0485,0.136],[2.071,0.056],[2.0935,0.018],[2.116,0.005],[2.15,0]];
const e68Broad = [[1.85,0],[1.878,0.004],[1.8955,0.017],[1.913,0.051],[1.9305,0.122],[1.948,0.228],[1.9655,0.331],[1.983,0.375],[2.0005,0.331],[2.018,0.228],[2.0355,0.122],[2.053,0.051],[2.0705,0.017],[2.088,0.004],[2.15,0]];
const e75Broad = [[1.8165,0.004],[1.8455,0.017],[1.8745,0.053],[1.9035,0.126],[1.9325,0.236],[1.9615,0.343],[1.9905,0.389],[2.0195,0.343],[2.0485,0.236],[2.0775,0.126],[2.1065,0.053],[2.1355,0.017],[2.1645,0.004]];
const ct78Broad = [[1.85,0],[1.954,0.004],[1.9615,0.017],[1.969,0.051],[1.9765,0.123],[1.984,0.229],[1.9915,0.333],[1.999,0.378],[2.0065,0.333],[2.014,0.229],[2.0215,0.123],[2.029,0.051],[2.0365,0.017],[2.044,0.004],[2.15,0]];
const ct205Broad = [[1.85,0],[1.898,0.003],[1.916,0.011],[1.934,0.032],[1.952,0.078],[1.970,0.146],[1.988,0.212],[2.006,0.240],[2.024,0.212],[2.042,0.146],[2.060,0.078],[2.078,0.032],[2.096,0.011],[2.114,0.003],[2.15,0]];
const ct235Broad = [[1.85,0],[1.981,0.002],[1.989,0.007],[1.997,0.022],[2.005,0.052],[2.013,0.097],[2.021,0.140],[2.029,0.159],[2.037,0.140],[2.045,0.097],[2.053,0.052],[2.061,0.022],[2.069,0.007],[2.077,0.002],[2.15,0]];
const aa88Broad = [[1.85,0],[1.890,0.005],[1.905,0.021],[1.920,0.065],[1.935,0.156],[1.950,0.291],[1.965,0.423],[1.980,0.480],[1.995,0.423],[2.010,0.291],[2.025,0.156],[2.040,0.065],[2.055,0.021],[2.070,0.005],[2.15,0]];
const aa101Broad = [[1.85,0],[1.893,0.005],[1.9075,0.020],[1.922,0.062],[1.9365,0.148],[1.951,0.277],[1.9655,0.402],[1.980,0.456],[1.9945,0.402],[2.009,0.277],[2.0235,0.148],[2.038,0.062],[2.0525,0.020],[2.067,0.005],[2.15,0]];
const aa146Broad = [[1.85,0],[1.904,0.004],[1.9205,0.016],[1.937,0.050],[1.9535,0.120],[1.970,0.225],[1.9865,0.326],[2.003,0.370],[2.0195,0.326],[2.036,0.225],[2.0525,0.120],[2.069,0.050],[2.0855,0.016],[2.102,0.004],[2.15,0]];

// narrow (magenta) components
const jh58Narrow = [[1.85,0],[1.894,0.001],[1.900,0.005],[1.906,0.015],[1.912,0.036],[1.918,0.067],[1.924,0.097],[1.930,0.110],[1.936,0.097],[1.942,0.067],[1.948,0.036],[1.954,0.015],[1.960,0.005],[1.966,0.001],[2.15,0]];
const jh94Narrow = [[1.85,0],[1.9285,0.001],[1.9313,0.004],[1.934,0.013],[1.9368,0.031],[1.9395,0.058],[1.9423,0.084],[1.945,0.095],[1.9478,0.084],[1.9505,0.058],[1.9533,0.031],[1.956,0.013],[1.9588,0.004],[1.9615,0.001],[2.15,0]];
const jh105Narrow = [[1.85,0],[1.9265,0.002],[1.9298,0.007],[1.933,0.023],[1.9363,0.055],[1.9395,0.103],[1.9428,0.150],[1.946,0.170],[1.9493,0.150],[1.9525,0.103],[1.9558,0.055],[1.959,0.023],[1.9623,0.007],[1.9655,0.002],[2.15,0]];
const e63Narrow = [[1.85,0],[1.933,0.0003],[1.935,0.0013],[1.937,0.004],[1.939,0.010],[1.941,0.018],[1.943,0.026],[1.945,0.030],[1.947,0.026],[1.949,0.018],[1.951,0.010],[1.953,0.004],[1.955,0.0013],[1.957,0.0003],[2.15,0]];
const e68Narrow = [[1.85,0],[1.929,0.0006],[1.932,0.002],[1.935,0.007],[1.938,0.016],[1.941,0.030],[1.944,0.044],[1.947,0.050],[1.950,0.044],[1.953,0.030],[1.956,0.016],[1.959,0.007],[1.962,0.002],[1.965,0.0006],[2.15,0]];
const e75Narrow = [[1.85,0],[1.928,0.001],[1.934,0.003],[1.940,0.008],[1.946,0.020],[1.952,0.036],[1.958,0.053],[1.964,0.060],[1.970,0.053],[1.976,0.036],[1.982,0.020],[1.988,0.008],[1.994,0.003],[2.000,0.001],[2.15,0]];
const ct78Narrow = [[1.85,0],[1.918,0.005],[1.9255,0.019],[1.933,0.060],[1.9405,0.144],[1.948,0.269],[1.9555,0.391],[1.963,0.443],[1.9705,0.391],[1.978,0.269],[1.9855,0.144],[1.993,0.060],[2.0005,0.019],[2.008,0.005],[2.15,0]];
const ct205Narrow = [[1.85,0],[1.890,0.002],[1.897,0.007],[1.904,0.021],[1.911,0.050],[1.918,0.094],[1.925,0.137],[1.932,0.155],[1.939,0.137],[1.946,0.094],[1.953,0.050],[1.960,0.021],[1.967,0.007],[1.974,0.002],[2.15,0]];
const ct235Narrow = [[1.809,0.002],[1.834,0.007],[1.859,0.020],[1.884,0.049],[1.909,0.091],[1.934,0.132],[1.959,0.150],[1.984,0.132],[2.009,0.091],[2.034,0.049],[2.059,0.020],[2.084,0.007],[2.109,0.002],[2.15,0]];
const aa88Narrow = [[1.85,0],[1.934,0.001],[1.9378,0.005],[1.9416,0.015],[1.9455,0.035],[1.9493,0.066],[1.9532,0.095],[1.957,0.108],[1.9609,0.095],[1.9647,0.066],[1.9686,0.035],[1.9724,0.015],[1.9763,0.005],[1.980,0.001],[2.15,0]];
const aa101Narrow = [[1.85,0],[1.916,0.001],[1.919,0.003],[1.922,0.010],[1.925,0.023],[1.928,0.043],[1.931,0.063],[1.934,0.071],[1.937,0.063],[1.940,0.043],[1.943,0.023],[1.946,0.010],[1.949,0.003],[1.952,0.001],[2.15,0]];
const aa146Narrow = [[1.85,0],[1.935,0.002],[1.939,0.006],[1.943,0.018],[1.947,0.044],[1.951,0.082],[1.955,0.119],[1.959,0.135],[1.963,0.119],[1.967,0.082],[1.971,0.044],[1.975,0.018],[1.979,0.006],[1.983,0.002],[2.15,0]];

// marker lines: [reference, narrow centre, broad centre]
const jh58Lines = [1.938, 1.930, 1.983];
const jh94Lines = [1.938, 1.945, 1.991];
const jh105Lines = [1.939, 1.946, 1.991];
const e63Lines = [1.938, 1.945, 1.981];
const e68Lines = [1.938, 1.947, 1.983];
const e75Lines = [1.939, 1.964, 1.9905];
const ct78Lines = [1.938, 1.963, 1.999];
const ct205Lines = [1.938, 1.932, 2.006];
const ct235Lines = [1.939, 1.959, 2.029];
const aa88Lines = [1.938, 1.957, 1.980];
const aa101Lines = [1.938, 1.934, 1.980];
const aa146Lines = [1.939, 1.959, 2.003];

const panels = [
  [jh58Spec, jh58Fit, jh58Broad, jh58Narrow, jh58Lines],
  [jh94Spec, jh94Fit, jh94Broad, jh94Narrow, jh94Lines],
  [jh105Spec, jh105Fit, jh105Broad, jh105Narrow, jh105Lines],
  [e63Spec, e63Fit, e63Broad, e63Narrow, e63Lines],
  [e68Spec, e68Fit, e68Broad, e68Narrow, e68Lines],
  [e75Spec, e75Fit, e75Broad, e75Narrow, e75Lines],
  [ct78Spec, ct78Fit, ct78Broad, ct78Narrow, ct78Lines],
  [ct205Spec, ct205Fit, ct205Broad, ct205Narrow, ct205Lines],
  [ct235Spec, ct235Fit, ct235Broad, ct235Narrow, ct235Lines],
  [aa88Spec, aa88Fit, aa88Broad, aa88Narrow, aa88Lines],
  [aa101Spec, aa101Fit, aa101Broad, aa101Narrow, aa101Lines],
  [aa146Spec, aa146Fit, aa146Broad, aa146Narrow, aa146Lines]
];

const fitColor = '#ff0000';
const broadColor = '#00bfbf';
const narrowColor = '#bf00bf';
const lineColors = ['rgba(255,0,0,0.5)', 'rgba(191,0,191,0.5)', 'rgba(0,191,191,0.5)'];
const errColor = '#c2c2c2';

// geometry (padding big enough that Chart.js never adds its own)
const PANEL_W = 211, PANEL_H = 237;
const LEFT0 = 98, TOP0 = 37, ROW_STEP = 358;
const PAD_L = 60, PAD_T = 18, PAD_R = 18, PAD_B = 44;

const errorBars = {
  id: 'errorBars',
  beforeDatasetsDraw(chart) {
    const { ctx, chartArea, scales } = chart;
    ctx.save();
    ctx.beginPath();
    ctx.rect(chartArea.left, chartArea.top, chartArea.right - chartArea.left, chartArea.bottom - chartArea.top);
    ctx.clip();
    ctx.strokeStyle = errColor;
    ctx.lineWidth = 2.8;
    chart.data.datasets.forEach(ds => {
      if (!ds.yErr) return;
      ds.data.forEach((p, i) => {
        const px = scales.x.getPixelForValue(p.x);
        ctx.beginPath();
        ctx.moveTo(px, scales.y.getPixelForValue(p.y - ds.yErr[i]));
        ctx.lineTo(px, scales.y.getPixelForValue(p.y + ds.yErr[i]));
        ctx.stroke();
      });
    });
    ctx.restore();
  }
};

const frame = {
  id: 'frame',
  afterDraw(chart) {
    const { ctx, chartArea: a } = chart;
    ctx.save();
    ctx.strokeStyle = '#000';
    ctx.lineWidth = 1.3;
    ctx.strokeRect(a.left, a.top, a.right - a.left, a.bottom - a.top);
    ctx.restore();
  }
};

const toXY = arr => arr.map(p => ({ x: p[0], y: p[1] }));

function curve(data, color, width, order) {
  return {
    type: 'line', data: toXY(data), borderColor: color, borderWidth: width,
    pointRadius: 0, fill: false, cubicInterpolationMode: 'monotone',
    clip: 0, order: order
  };
}

function makePanel(p, row, col) {
  const [spec, fit, broad, narrow, lines] = p;
  const canvas = document.createElement('canvas');
  canvas.width = PANEL_W + PAD_L + PAD_R;
  canvas.height = PANEL_H + PAD_T + PAD_B;
  canvas.style.left = (LEFT0 + col * PANEL_W - PAD_L) + 'px';
  canvas.style.top = (TOP0 + row * ROW_STEP - PAD_T) + 'px';
  document.body.appendChild(canvas);

  const datasets = [];
  lines.forEach((v, i) => {
    datasets.push({
      type: 'line', data: [{ x: v, y: -1 }, { x: v, y: 2 }],
      borderColor: lineColors[i], borderWidth: 3, pointRadius: 0, clip: 0, order: 10 - i
    });
  });
  datasets.push({
    type: 'scatter', data: spec.map(s => ({ x: s[0], y: s[1] })), yErr: spec.map(s => s[2]),
    backgroundColor: '#000', borderWidth: 0, pointRadius: 3.4, clip: 0, order: 5
  });
  datasets.push(curve(narrow, narrowColor, 2.6, 3));
  datasets.push(curve(broad, broadColor, 2.6, 2));
  datasets.push(curve(fit, fitColor, 3.2, 1));

  const tickFont = { family: 'Liberation Serif', size: 23 };
  new Chart(canvas, {
    type: 'scatter',
    data: { datasets },
    options: {
      responsive: false,
      animation: false,
      devicePixelRatio: 1,
      events: [],
      layout: { padding: { left: 0, top: PAD_T, right: PAD_R, bottom: 0 } },
      plugins: { legend: { display: false }, tooltip: { enabled: false } },
      scales: {
        x: {
          type: 'linear', position: 'bottom', min: xRange[0], max: xRange[1],
          afterBuildTicks: axis => { axis.ticks = xTicks.map(v => ({ value: v })); },
          afterFit: axis => { axis.height = PAD_B; },
          ticks: { color: '#000', font: tickFont, padding: 3, maxRotation: 0, callback: v => v.toFixed(1) },
          grid: { drawOnChartArea: false, drawTicks: true, tickLength: 7, tickWidth: 1.3, tickColor: '#000' },
          border: { display: false }
        },
        y: {
          type: 'linear', position: 'left', min: yRange[0], max: yRange[1],
          afterBuildTicks: axis => { axis.ticks = yTicks.map(v => ({ value: v })); },
          afterFit: axis => { axis.width = PAD_L; },
          ticks: { display: col === 0, color: '#000', font: tickFont, padding: 4, callback: v => v.toFixed(1) },
          grid: { drawOnChartArea: false, drawTicks: true, tickLength: 7, tickWidth: 1.3, tickColor: '#000' },
          border: { display: false }
        }
      }
    },
    plugins: [errorBars, frame]
  });
}

function addText(html, x, baseline, size, align, extra) {
  const d = document.createElement('div');
  d.className = 'lbl';
  d.innerHTML = html;
  d.style.fontSize = size + 'px';
  d.style.left = x + 'px';
  d.style.top = (baseline - 0.84 * size) + 'px';
  if (align === 'center') d.style.transform = 'translateX(-50%)';
  if (align === 'right') d.style.transform = 'translateX(-100%)';
  if (extra) Object.assign(d.style, extra);
  document.body.appendChild(d);
  return d;
}

panels.forEach((p, i) => makePanel(p, Math.floor(i / 3), i % 3));

for (let r = 0; r < 4; r++) {
  const off = r * ROW_STEP;
  for (let c = 0; c < 3; c++) {
    const left = LEFT0 + c * PANEL_W;
    addText(epochs[r][c], left + PANEL_W / 2, 30 + off, 27, 'center');
    addText('<i>r</i> = ' + ratios[r][c], left + PANEL_W - 8, 71 + off, 24, 'right',
      { color: ratioRed[r] ? '#ff0000' : '#000' });
  }
  const yl = addText('Normalized Flux', 0, 0, 33, null);
  yl.style.left = '26px';
  yl.style.top = (155 + off) + 'px';
  yl.style.transform = 'translate(-50%, -50%) rotate(-90deg)';
  addText('Rest Wavelength (<span class="math">μ</span>m)', 462, 333 + off, 33, 'center');
  addText(objects[r], 776, 121 + off, 32, null);
  addText('<span class="math">s</span><span class="math" style="font-size:0.7em;position:relative;top:0.25em">BV</span> = ' + sBV[r],
    776, 153 + off, 28, null);
}
</script>
</body>
</html>
